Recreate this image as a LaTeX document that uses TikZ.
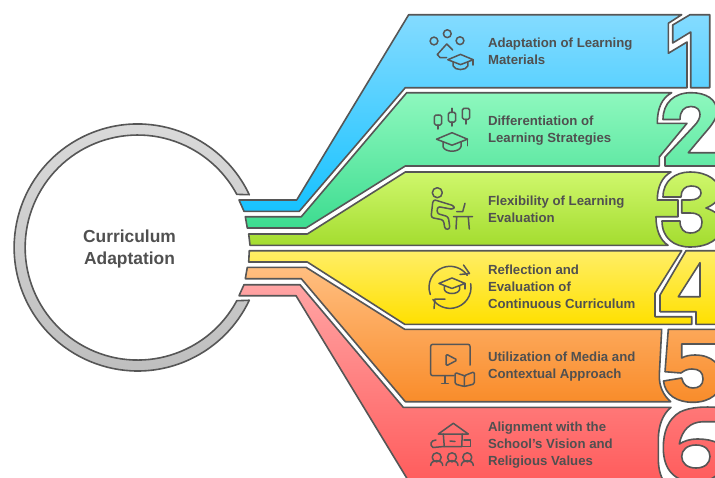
\documentclass[tikz,border=0pt]{standalone}
\usepackage{fontspec}
\setmainfont{Liberation Sans}
\definecolor{linegray}{HTML}{565656}
\definecolor{textgray}{HTML}{505050}
\definecolor{blueA}{HTML}{84DBFF}\definecolor{blueB}{HTML}{17C2FF}
\definecolor{greenA}{HTML}{8EF8BE}\definecolor{greenB}{HTML}{3DDC90}
\definecolor{limeA}{HTML}{CFF76C}\definecolor{limeB}{HTML}{A3DC2E}
\definecolor{yellowA}{HTML}{FFEE66}\definecolor{yellowB}{HTML}{FFE000}
\definecolor{orangeA}{HTML}{FFBE80}\definecolor{orangeB}{HTML}{F98C2A}
\definecolor{redA}{HTML}{FFA4A4}\definecolor{redB}{HTML}{FF5C5C}
\tikzset{
  bandshape/.style 2 args={draw=linegray,line width=1.6pt,line join=round,even odd rule,top color=#1,bottom color=#2},
  ringshape/.style={draw=linegray,line width=1.6pt,line join=round,top color=black!14,bottom color=black!26},
  bandlabel/.style={anchor=west,align=left,text=textgray,font=\fontsize{13.2}{17}\selectfont\bfseries},
  iconline/.style={draw=linegray,line width=1.5pt,line cap=round,line join=round},
  gradcap/.pic={
    \draw[iconline] (-15.5,0.5)--(0,-6)--(15.5,0.5)--(0,6.5)--cycle;
    \draw[iconline] (-9,3.5)--(-9,8) .. controls (-7,14) and (7,14) .. (9,8)--(9,3.5);
    \draw[iconline] (15.5,0.5)--(15.5,7);
  }
}
\begin{document}
\begin{tikzpicture}[x=1pt,y=-1pt]
	\useasboundingbox (0,0) rectangle (715,477);
	\clip (0,0) rectangle (715,477);

	%% Ring
	\draw[ringshape] (249.3,194.7) arc (-25.3:-334.7:123.5)--(236.8,300.7) arc (-331.8:-28.2:112.5)--cycle;
	\node[text=textgray,align=center,font=\fontsize{17.4}{22}\selectfont\bfseries] (hub) at (129.5,249) {Curriculum\\Adaptation};

	%% Band 1
	\draw[bandshape={blueA}{blueB}] (408.7,14.7)--(681.7,14.7)--(668.3,23.3)--(668.3,53.3)--(687,42)--(687,87.7)--(405.3,87.7)--(299.3,211.3)--(244,211.3)--(239,200)--(296.7,200)--cycle
		(690,14.7)--(709.7,14.7)--(709.7,87.7)--(690.7,87.7)--(690.7,32)--(672.7,43)--(672.7,25)--cycle;
	%% Band 2
	\draw[bandshape={greenA}{greenB}] (406.7,92.7)--(671.7,92.7) .. controls (662,98) and (657.3,108) .. (657.3,123.3)--(687,123.3)--(659.3,157)--(659.3,166)--(405.3,166)--(306,228)--(247.3,228)--(245.3,216.7)--(301.3,216.7)--cycle
		(665,166)--(722,166)--(722,152.7)--(688.3,152.7)--(704,134) .. controls (712,125) and (717,118) .. (717,112) .. controls (717,99) and (706,92.7) .. (691,92.7) .. controls (674,92.7) and (663,103) .. (663,119.5)--(680,119.5) .. controls (680,111) and (684,106.5) .. (691,106.5) .. controls (697,106.5) and (700,110) .. (700,114.5) .. controls (700,118) and (698,122) .. (694,126)--(665,157)--cycle;
	%% Band 3
	\draw[bandshape={limeA}{limeB}] (405.3,172)--(671,172) .. controls (662,177) and (657.3,187) .. (657.3,200)--(678,200)--(678,216.7)--(656,216.7) .. controls (656,230) and (660,240) .. (668,245.3)--(250,245.3)--(248.7,234)--(307.3,234)--cycle
		(663,197) .. controls (663,181) and (675,172) .. (690,172) .. controls (708,172) and (720,181) .. (720,193) .. controls (720,199) and (714,205) .. (706,208) .. controls (715,211) and (722,216) .. (722,225) .. controls (722,239) and (708,247) .. (690,247) .. controls (674,247) and (662,238) .. (662,221)--(680,221) .. controls (680,229) and (684,233) .. (690,233) .. controls (698,233) and (702,229) .. (702,222) .. controls (702,216) and (698,213) .. (690,213)--(681.7,213)--(681.7,200)--(690,200) .. controls (697,200) and (701,197) .. (701,193) .. controls (701,188) and (697,186) .. (691,186) .. controls (685,186) and (681,190) .. (681,197)--cycle;
	%% Band 4
	\draw[bandshape={yellowA}{yellowB}] (249.3,250.7)--(681.7,250.7)--(655,293.3)--(655,316.7)--(691.7,316.7)--(691.7,324.3)--(404.7,324.3)--(307.3,262)--(248.7,262)--cycle
		(686,250.7)--(722,250.7)--(722,324.3)--(696,324.3)--(696,311.7)--(660,311.7)--(660,295)--cycle
		(700,262.7)--(700,296.7)--(678.3,296.7)--cycle;
	%% Band 5
	\draw[bandshape={orangeA}{orangeB}] (247.3,267.3)--(306,267.3)--(404.7,329.3)--(661.7,329.3)--(659.3,375) .. controls (659,386) and (663,395) .. (670.7,401.7)--(405.3,401.7)--(301.3,278.7)--(245.3,278.7)--cycle
		(668.3,329.3)--(722,329.3)--(722,344)--(681.7,344)--(681.7,358) .. controls (685,356) and (690,355) .. (695,355) .. controls (712,355) and (722,365) .. (722,379) .. controls (722,393) and (710,402.3) .. (693,402.3) .. controls (677,402.3) and (665,395) .. (663.5,381)--(681.7,378) .. controls (683,385) and (688,388) .. (693,388) .. controls (699,388) and (703,385) .. (703,379) .. controls (703,372) and (699,369) .. (692,369) .. controls (688,369) and (685,370) .. (681,373)--(665,371.7)--cycle;
	%% Band 6
	\draw[bandshape={redA}{redB}] (244,284.7)--(300,284.7)--(403.3,407.3)--(671,407.3) .. controls (663,414) and (658.3,425) .. (658.3,440)--(658.3,458) .. controls (658.3,468) and (660,475) .. (664,482)--(408.7,481.3)--(296,295.7)--(239,295.7)--cycle
		(725,408) .. controls (705,406) and (690,407) .. (680,412) .. controls (668,419) and (663.3,432) .. (663.3,448) .. controls (663.3,470) and (675,482) .. (695,482) .. controls (715,482) and (726,470) .. (726,456) .. controls (726,445) and (715,439) .. (697,439) .. controls (690,439) and (684,441) .. (679.3,444) .. controls (682,430) and (690,422) .. (703,421.7)--(725,421.7)--cycle
		(696,445) .. controls (705,445) and (710,450) .. (710,456.5) .. controls (710,463) and (705,468) .. (696,468) .. controls (687,468) and (681.7,463) .. (681.7,456.5) .. controls (681.7,450) and (687,445) .. (696,445)--cycle;

	%% Labels
	\node[bandlabel] (lab1) at (484.5,51.5) {Adaptation of Learning\\Materials};
	\node[bandlabel] (lab2) at (484.5,130.5) {Differentiation of\\Learning Strategies};
	\node[bandlabel] (lab3) at (484.5,209.3) {Flexibility of Learning\\Evaluation};
	\node[bandlabel] (lab4) at (484.5,287) {Reflection and\\Evaluation of\\Continuous Curriculum};
	\node[bandlabel] (lab5) at (484.5,366.8) {Utilization of Media and\\Contextual Approach};
	\node[bandlabel] (lab6) at (484.5,445) {Alignment with the\\School's Vision and\\Religious Values};

	%% Icon 1
	\draw[iconline] (434,41) circle (3.9) (447.3,33.7) circle (3.9) (460,40.7) circle (3.9);
	\draw[iconline] (452.7,50)--(446.7,44)--(437.3,54.5)--(440,57.5)--(446.7,57.5);
	\pic[scale=.82] (cap1) at (460.5,59.3) {gradcap};

	%% Icon 2
	\foreach \cx/\ct/\cb/\wt/\wb in {438/115/125/115/129,452/112.3/122/108.3/126,466/108.3/119.3/108.3/124}{
		\draw[iconline,rounded corners=1.5pt] (\cx-3.6,\ct) rectangle (\cx+3.6,\cb);
		\draw[iconline] (\cx,\wt)--(\cx,\ct) (\cx,\cb)--(\cx,\wb);
	}
	\pic (cap2) at (452,138.7) {gradcap};

	%% Icon 3
	\draw[iconline] (437.3,192.7) circle (5);
	\draw[iconline,rounded corners=2.5pt] (435,200)--(433,200)--(431,217.5)--(443.5,220)--(445,229.5)--(450,229)--(448.3,216.7)--(437,213.5)--(437.5,206.5)--(453.5,209.5)--(454.5,206)--(435,200);
	\draw[iconline] (453.5,216.7)--(472.5,216.7) (456.7,217)--(456,229) (468.3,217)--(469.3,229);
	\draw[iconline] (465,203.3)--(462.7,211.7)--(456.7,211.7);

	%% Icon 4
	\draw[iconline] (430.3,294.5) arc (-200:-35:21);
	\draw[iconline] (470.7,283.7) arc (-10:145:21);
	\draw[iconline] (463.5,265)--(469.5,273.5)--(460,274.5);
	\draw[iconline] (434,308.5)--(435,299)--(445,299);
	\pic[scale=.84] (cap4) at (452,283) {gradcap};

	%% Icon 5
	\draw[iconline,rounded corners=2pt] (470,365)--(470,344.3)--(430.7,344.3)--(430.7,375.7)--(454,375.7);
	\draw[iconline] (445,375.7)--(445,383.3) (441.7,383.3)--(448.3,383.3);
	\draw[iconline,rounded corners=1.5pt] (446,354)--(446,366)--(457.3,360)--cycle;
	\draw[iconline,rounded corners=1.5pt] (464.3,375.7)--(455,372.5)--(455,384)--(464.3,386.5)--(474.3,384)--(474.3,371.7)--(464.3,375.7)--(464.3,386.5);

	%% Icon 6
	\draw[iconline] (438.3,434)--(453.3,423.3)--(468.3,434)--cycle;
	\draw[iconline] (443.3,434)--(444.3,446.7)--(461.7,446.7)--(462.3,434) (450,441)--(455,441.5);
	\draw[iconline] (444,446.5)--(433,447.5) .. controls (429,445) and (431,440) .. (436,440);
	\draw[iconline] (461.7,446.7)--(470.7,446.7)--(470.7,440)--(464,440);
	\foreach \hx in {436.7,452,467.3}{
		\draw[iconline] (\hx,457.3) circle (4.5);
		\draw[iconline] (\hx-6,465.5) .. controls (\hx-6,459) and (\hx+6,459) .. (\hx+6,465.5);
	}
\end{tikzpicture}
\end{document}
